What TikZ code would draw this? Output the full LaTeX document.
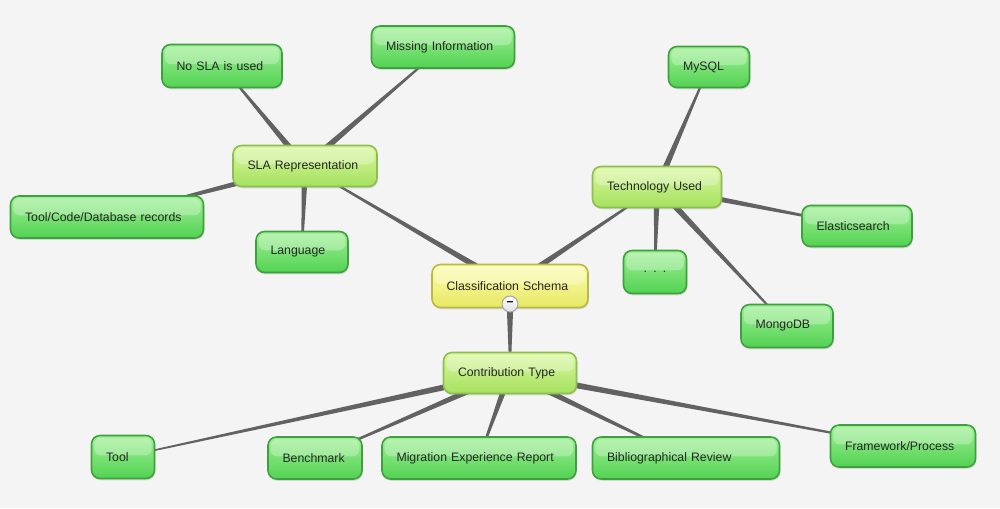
\documentclass[tikz,border=0pt]{standalone}
\usepackage{fontspec}
\setmainfont{Liberation Sans}
\usetikzlibrary{calc,shadows,backgrounds}
\definecolor{edgecol}{HTML}{626262}
\definecolor{paper}{HTML}{F4F4F4}
\newcommand{\tedge}[2]{\fill[edgecol] ($(#1)!1.9pt!90:(#2)$) -- ($(#1)!1.9pt!-90:(#2)$) -- ($(#2)!0.35pt!90:(#1)$) -- ($(#2)!0.35pt!-90:(#1)$) -- cycle;}
\tikzset{
  base/.style={rounded corners=0.17cm, inner ysep=0pt, inner xsep=0.29cm, align=left, line width=0.9pt,
    font=\fontsize{7}{8.5}\selectfont, text=black!85,
    drop shadow={opacity=0.25, shadow xshift=0.5pt, shadow yshift=-1pt},
    path picture={\fill[white,opacity=0.28,rounded corners=0.12cm] ([xshift=1.6pt,yshift=-1.3pt]path picture bounding box.north west) rectangle ([xshift=-1.6pt,yshift=1pt]path picture bounding box.east);}},
  leaf/.style={base, draw={rgb,255:red,62;green,160;blue,62},
    top color={rgb,255:red,160;green,240;blue,150}, bottom color={rgb,255:red,82;green,210;blue,82}},
  mid/.style={base, draw={rgb,255:red,140;green,190;blue,80},
    top color={rgb,255:red,218;green,248;blue,160}, bottom color={rgb,255:red,165;green,225;blue,95}},
  rootbox/.style={base, draw={rgb,255:red,185;green,185;blue,70},
    top color={rgb,255:red,252;green,252;blue,175}, bottom color={rgb,255:red,232;green,232;blue,100}},
  toggle/.style={circle, draw=black!35, line width=0.6pt, top color=white, bottom color=black!12, minimum size=0.32cm, inner sep=0pt}
}
\begin{document}
\begin{tikzpicture}[x=0.02cm,y=-0.02cm]
\useasboundingbox (0,0) rectangle (1000,508);
% nodes
\node[rootbox, text width=2.54cm, minimum height=0.86cm] (root) at (510,286) {Classification Schema};
\node[toggle] (collapse) at (510,304) {\fontsize{7}{7}\selectfont\textbf{--}};
\node[mid, text width=2.30cm, minimum height=0.82cm] (sla) at (305,166) {SLA Representation};
\node[leaf, text width=1.82cm, minimum height=0.86cm] (nosla) at (222,66) {No SLA is used};
\node[leaf, text width=2.28cm, minimum height=0.84cm] (missing) at (443,47) {Missing Information};
\node[leaf, text width=3.28cm, minimum height=0.84cm] (toolcode) at (107,217) {Tool/Code/Database records};
\node[leaf, text width=1.26cm, minimum height=0.82cm] (lang) at (302,252) {Language};
\node[mid, text width=2.00cm, minimum height=0.82cm] (tech) at (657,187) {Technology Used};
\node[leaf, text width=1.04cm, minimum height=0.82cm] (mysql) at (709,67) {MySQL};
\node[leaf, text width=1.62cm, minimum height=0.82cm] (elastic) at (857,226) {Elasticsearch};
\node[leaf, text width=0.68cm, align=center, minimum height=0.86cm] (dots) at (655,272) {. . .};
\node[leaf, text width=1.26cm, minimum height=0.86cm] (mongo) at (787,326) {MongoDB};
\node[mid, text width=2.08cm, minimum height=0.82cm] (contrib) at (510,373) {Contribution Type};
\node[leaf, text width=0.68cm, minimum height=0.86cm] (tool) at (123,457) {Tool};
\node[leaf, text width=1.30cm, minimum height=0.84cm] (bench) at (315,458) {Benchmark};
\node[leaf, text width=3.30cm, minimum height=0.84cm] (migr) at (479,458) {Migration Experience Report};
\node[leaf, text width=3.16cm, minimum height=0.84cm] (biblio) at (686,458) {Bibliographical Review};
\node[leaf, text width=2.32cm, minimum height=0.84cm] (frame) at (903,446) {Framework/Process};
\begin{pgfonlayer}{background}
\fill[paper] (0,0) rectangle (1000,508);
\tedge{root}{sla}
\tedge{root}{tech}
\tedge{collapse}{contrib}
\tedge{sla}{nosla}
\tedge{sla}{missing}
\tedge{sla}{toolcode}
\tedge{sla}{lang}
\tedge{tech}{mysql}
\tedge{tech}{elastic}
\tedge{tech}{dots}
\tedge{tech}{mongo}
\tedge{contrib}{tool}
\tedge{contrib}{bench}
\tedge{contrib}{migr}
\tedge{contrib}{biblio}
\tedge{contrib}{frame}
\end{pgfonlayer}
\end{tikzpicture}
\end{document}
